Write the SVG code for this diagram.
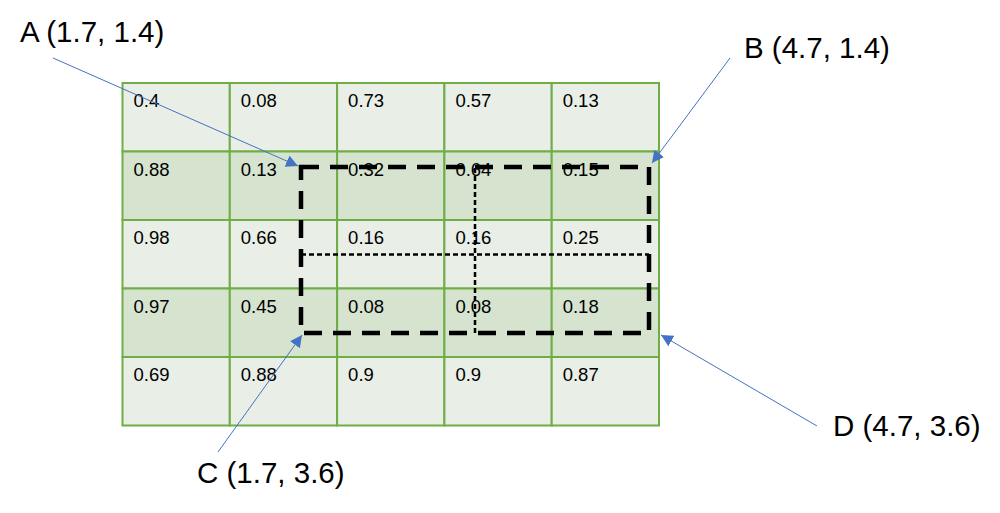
<svg xmlns="http://www.w3.org/2000/svg" width="1000" height="513" viewBox="0 0 1000 513">
<style>
.l{fill:#E9EEE6;stroke:#70AD47;stroke-width:2}
.d{fill:#D5E3CF;stroke:#70AD47;stroke-width:2}
.v{font-family:"Liberation Sans",Arial,sans-serif;font-size:18.5px;fill:#000}
.lab{font-family:"Liberation Sans",Arial,sans-serif;font-size:29.5px;fill:#000}
.arr{stroke:#4472C4;stroke-width:1;fill:none;marker-end:url(#ah)}
.thick{fill:none;stroke:#000;stroke-width:4.5;stroke-dasharray:18 11}
.thin{fill:none;stroke:#000;stroke-width:2.5;stroke-dasharray:5 3}
</style>
<defs>
<marker id="ah" viewBox="0 0 10 10" refX="10" refY="5" markerWidth="12" markerHeight="12" markerUnits="userSpaceOnUse" orient="auto">
<path d="M0,0 L10,5 L0,10 Z" fill="#4472C4"/>
</marker>
</defs>
<rect width="1000" height="513" fill="#fff"/>
<g id="grid">
<g id="row1">
<rect class="l" x="122.5" y="83" width="107.3" height="68.5"/><rect class="l" x="229.8" y="83" width="107.3" height="68.5"/><rect class="l" x="337.1" y="83" width="107.3" height="68.5"/><rect class="l" x="444.4" y="83" width="107.3" height="68.5"/><rect class="l" x="551.7" y="83" width="107.3" height="68.5"/>
<text class="v" x="133.5" y="106.5">0.4</text><text class="v" x="240.8" y="106.5">0.08</text><text class="v" x="348.1" y="106.5">0.73</text><text class="v" x="455.4" y="106.5">0.57</text><text class="v" x="562.7" y="106.5">0.13</text>
</g>
<g id="row2">
<rect class="d" x="122.5" y="151.5" width="107.3" height="68.5"/><rect class="d" x="229.8" y="151.5" width="107.3" height="68.5"/><rect class="d" x="337.1" y="151.5" width="107.3" height="68.5"/><rect class="d" x="444.4" y="151.5" width="107.3" height="68.5"/><rect class="d" x="551.7" y="151.5" width="107.3" height="68.5"/>
<text class="v" x="133.5" y="175.5">0.88</text><text class="v" x="240.8" y="175.5">0.13</text><text class="v" x="348.1" y="175.5">0.32</text><text class="v" x="455.4" y="175.5">0.64</text><text class="v" x="562.7" y="175.5">0.15</text>
</g>
<g id="row3">
<rect class="l" x="122.5" y="220" width="107.3" height="68.5"/><rect class="l" x="229.8" y="220" width="107.3" height="68.5"/><rect class="l" x="337.1" y="220" width="107.3" height="68.5"/><rect class="l" x="444.4" y="220" width="107.3" height="68.5"/><rect class="l" x="551.7" y="220" width="107.3" height="68.5"/>
<text class="v" x="133.5" y="244">0.98</text><text class="v" x="240.8" y="244">0.66</text><text class="v" x="348.1" y="244">0.16</text><text class="v" x="455.4" y="244">0.16</text><text class="v" x="562.7" y="244">0.25</text>
</g>
<g id="row4">
<rect class="d" x="122.5" y="288.5" width="107.3" height="68.5"/><rect class="d" x="229.8" y="288.5" width="107.3" height="68.5"/><rect class="d" x="337.1" y="288.5" width="107.3" height="68.5"/><rect class="d" x="444.4" y="288.5" width="107.3" height="68.5"/><rect class="d" x="551.7" y="288.5" width="107.3" height="68.5"/>
<text class="v" x="133.5" y="312.5">0.97</text><text class="v" x="240.8" y="312.5">0.45</text><text class="v" x="348.1" y="312.5">0.08</text><text class="v" x="455.4" y="312.5">0.08</text><text class="v" x="562.7" y="312.5">0.18</text>
</g>
<g id="row5">
<rect class="l" x="122.5" y="357" width="107.3" height="68.5"/><rect class="l" x="229.8" y="357" width="107.3" height="68.5"/><rect class="l" x="337.1" y="357" width="107.3" height="68.5"/><rect class="l" x="444.4" y="357" width="107.3" height="68.5"/><rect class="l" x="551.7" y="357" width="107.3" height="68.5"/>
<text class="v" x="133.5" y="381">0.69</text><text class="v" x="240.8" y="381">0.88</text><text class="v" x="348.1" y="381">0.9</text><text class="v" x="455.4" y="381">0.9</text><text class="v" x="562.7" y="381">0.87</text>
</g>
</g>
<g id="window">
<path class="thick" d="M301,167 H649 V333 H301 Z"/>
<path class="thin" d="M475,168 V333"/>
<path class="thin" d="M301,254.5 H649"/>
</g>
<g id="connectors">
<line class="arr" x1="53" y1="58" x2="298" y2="166"/>
<line class="arr" x1="730" y1="58" x2="652" y2="163"/>
<line class="arr" x1="218" y1="452" x2="302" y2="335"/>
<line class="arr" x1="817" y1="426" x2="661" y2="335"/>
</g>
<g id="labelA"><text class="lab" x="20" y="42">A (1.7, 1.4)</text></g>
<g id="labelB"><text class="lab" x="744" y="58">B (4.7, 1.4)</text></g>
<g id="labelC"><text class="lab" x="197" y="483">C (1.7, 3.6)</text></g>
<g id="labelD"><text class="lab" x="833" y="436">D (4.7, 3.6)</text></g>
</svg>
